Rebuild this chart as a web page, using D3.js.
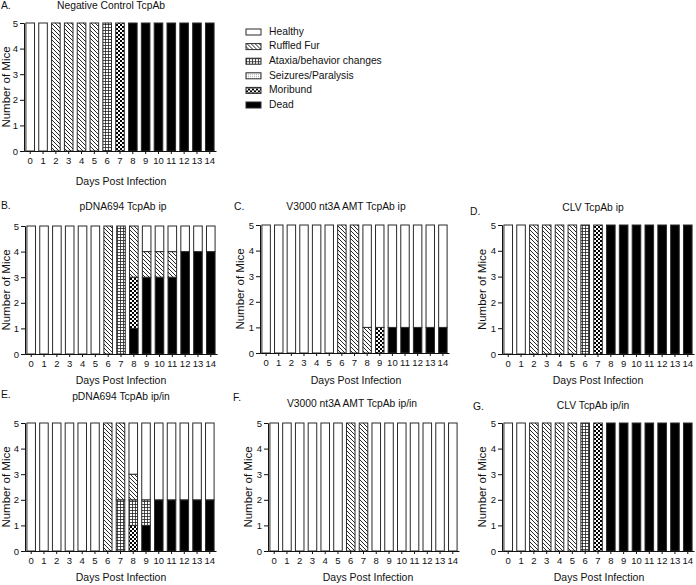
<!DOCTYPE html>
<html>
<head>
<meta charset="utf-8">
<script src="https://cdnjs.cloudflare.com/ajax/libs/d3/7.8.5/d3.min.js"></script>
<style>
  body { margin: 0; background: #fff; }
  text { font-family: "Liberation Sans", Arial, sans-serif; fill: #111; }
</style>
</head>
<body>
<svg id="chart" width="696" height="585"></svg>
<script>
const width = 696;
const height = 585;
const svg = d3.select("#chart");

// categories, in legend order (top to bottom)
const categories = ["Healthy", "Ruffled Fur", "Ataxia/behavior changes", "Seizures/Paralysis", "Moribund", "Dead"];
const days = ["0", "1", "2", "3", "4", "5", "6", "7", "8", "9", "10", "11", "12", "13", "14"];

// per day: [Healthy, Ruffled Fur, Ataxia, Seizures, Moribund, Dead]
const negControl = [
  [5,0,0,0,0,0], [5,0,0,0,0,0], [0,5,0,0,0,0], [0,5,0,0,0,0], [0,5,0,0,0,0],
  [0,5,0,0,0,0], [0,0,5,0,0,0], [0,0,0,0,5,0], [0,0,0,0,0,5], [0,0,0,0,0,5],
  [0,0,0,0,0,5], [0,0,0,0,0,5], [0,0,0,0,0,5], [0,0,0,0,0,5], [0,0,0,0,0,5]
];
const pdnaIp = [
  [5,0,0,0,0,0], [5,0,0,0,0,0], [5,0,0,0,0,0], [5,0,0,0,0,0], [5,0,0,0,0,0],
  [5,0,0,0,0,0], [0,5,0,0,0,0], [0,0,5,0,0,0], [0,2,0,0,2,1], [1,1,0,0,0,3],
  [1,1,0,0,0,3], [1,1,0,0,0,3], [1,0,0,0,0,4], [1,0,0,0,0,4], [1,0,0,0,0,4]
];
const v3000Ip = [
  [5,0,0,0,0,0], [5,0,0,0,0,0], [5,0,0,0,0,0], [5,0,0,0,0,0], [5,0,0,0,0,0],
  [5,0,0,0,0,0], [0,5,0,0,0,0], [0,5,0,0,0,0], [4,1,0,0,0,0], [4,0,0,0,1,0],
  [4,0,0,0,0,1], [4,0,0,0,0,1], [4,0,0,0,0,1], [4,0,0,0,0,1], [4,0,0,0,0,1]
];
const clvIp = [
  [5,0,0,0,0,0], [5,0,0,0,0,0], [0,5,0,0,0,0], [0,5,0,0,0,0], [0,5,0,0,0,0],
  [0,5,0,0,0,0], [0,0,5,0,0,0], [0,0,0,0,5,0], [0,0,0,0,0,5], [0,0,0,0,0,5],
  [0,0,0,0,0,5], [0,0,0,0,0,5], [0,0,0,0,0,5], [0,0,0,0,0,5], [0,0,0,0,0,5]
];
const pdnaIpIn = [
  [5,0,0,0,0,0], [5,0,0,0,0,0], [5,0,0,0,0,0], [5,0,0,0,0,0], [5,0,0,0,0,0],
  [5,0,0,0,0,0], [0,5,0,0,0,0], [0,3,2,0,0,0], [2,1,1,0,1,0], [3,0,1,0,0,1],
  [3,0,0,0,0,2], [3,0,0,0,0,2], [3,0,0,0,0,2], [3,0,0,0,0,2], [3,0,0,0,0,2]
];
const v3000IpIn = [
  [5,0,0,0,0,0], [5,0,0,0,0,0], [5,0,0,0,0,0], [5,0,0,0,0,0], [5,0,0,0,0,0],
  [5,0,0,0,0,0], [0,5,0,0,0,0], [0,5,0,0,0,0], [5,0,0,0,0,0], [5,0,0,0,0,0],
  [5,0,0,0,0,0], [5,0,0,0,0,0], [5,0,0,0,0,0], [5,0,0,0,0,0], [5,0,0,0,0,0]
];
const clvIpIn = [
  [5,0,0,0,0,0], [5,0,0,0,0,0], [0,5,0,0,0,0], [0,5,0,0,0,0], [0,5,0,0,0,0],
  [0,5,0,0,0,0], [0,0,5,0,0,0], [0,0,0,0,5,0], [0,0,0,0,0,5], [0,0,0,0,0,5],
  [0,0,0,0,0,5], [0,0,0,0,0,5], [0,0,0,0,0,5], [0,0,0,0,0,5], [0,0,0,0,0,5]
];

// fills for each category
const defs = svg.append("defs");

defs.append("pattern").attr("id", "p-ruffled")
    .attr("patternUnits", "userSpaceOnUse").attr("width", 4).attr("height", 4)
  .call(p => {
    p.append("rect").attr("width", 4).attr("height", 4).attr("fill", "#fff");
    p.append("path").attr("d", "M-1,-1L5,5M-1,3L1,5M3,-1L5,1")
      .attr("stroke", "#111").attr("stroke-width", 0.9);
  });

defs.append("pattern").attr("id", "p-ataxia")
    .attr("patternUnits", "userSpaceOnUse").attr("width", 3).attr("height", 3)
  .call(p => {
    p.append("rect").attr("width", 3).attr("height", 3).attr("fill", "#fff");
    p.append("path").attr("d", "M0,0.5H3M0.5,0V3")
      .attr("stroke", "#222").attr("stroke-width", 0.8);
  });

defs.append("pattern").attr("id", "p-seizure")
    .attr("patternUnits", "userSpaceOnUse").attr("width", 2).attr("height", 2)
  .call(p => {
    p.append("rect").attr("width", 2).attr("height", 2).attr("fill", "#fff");
    p.append("rect").attr("width", 0.7).attr("height", 0.7).attr("fill", "#555");
  });

defs.append("pattern").attr("id", "p-moribund")
    .attr("patternUnits", "userSpaceOnUse").attr("width", 4).attr("height", 4)
  .call(p => {
    p.append("rect").attr("width", 4).attr("height", 4).attr("fill", "#fff");
    p.append("rect").attr("width", 2).attr("height", 2).attr("fill", "#000");
    p.append("rect").attr("x", 2).attr("y", 2).attr("width", 2).attr("height", 2).attr("fill", "#000");
  });

const fills = ["#fff", "url(#p-ruffled)", "url(#p-ataxia)", "url(#p-seizure)", "url(#p-moribund)", "#000"];

// stacking order from the baseline up: Dead, Moribund, Seizures, Ataxia, Ruffled, Healthy
const stackKeys = [5, 4, 3, 2, 1, 0];

const panels = [
  { data: negControl, letter: "A.", title: "Negative Control TcpAb",
    axisX: 24, right: 216, top: 23, bottom: 151, titleX: 111, titleY: 6, letterX: 1, letterY: 6,
    xLabelX: 121, xLabelY: 182 },
  { data: pdnaIp, letter: "B.", title: "pDNA694 TcpAb ip",
    axisX: 25, right: 217, top: 226, bottom: 354, titleX: 123, titleY: 207, letterX: 1, letterY: 206,
    xLabelX: 121, xLabelY: 381 },
  { data: v3000Ip, letter: "C.", title: "V3000 nt3A AMT TcpAb ip",
    axisX: 260, right: 449, top: 225, bottom: 353, titleX: 346, titleY: 207, letterX: 234, letterY: 207,
    xLabelX: 356, xLabelY: 381 },
  { data: clvIp, letter: "D.", title: "CLV TcpAb ip",
    axisX: 502, right: 694, top: 225, bottom: 354, titleX: 593, titleY: 208, letterX: 470, letterY: 212,
    xLabelX: 598, xLabelY: 381 },
  { data: pdnaIpIn, letter: "E.", title: "pDNA694 TcpAb ip/in",
    axisX: 25, right: 216, top: 423, bottom: 551, titleX: 121, titleY: 397, letterX: 1, letterY: 395,
    xLabelX: 121, xLabelY: 578 },
  { data: v3000IpIn, letter: "F.", title: "V3000 nt3A AMT TcpAb ip/in",
    axisX: 268, right: 459, top: 423, bottom: 551, titleX: 352, titleY: 404, letterX: 233, letterY: 398,
    xLabelX: 368, xLabelY: 578 },
  { data: clvIpIn, letter: "G.", title: "CLV TcpAb ip/in",
    axisX: 502, right: 694, top: 423, bottom: 551, titleX: 593, titleY: 406, letterX: 473, letterY: 407,
    xLabelX: 599, xLabelY: 578 }
];

function drawPanel(p) {
  const g = svg.append("g");

  const x = d3.scaleBand()
      .domain(days)
      .range([p.axisX, p.right])
      .paddingInner(0.33)
      .paddingOuter(0.15);

  const y = d3.scaleLinear()
      .domain([0, 5])
      .range([p.bottom, p.top]);

  const rows = p.data.map((r, i) => {
    const o = { day: days[i] };
    r.forEach((v, k) => { o[k] = v; });
    return o;
  });

  const series = d3.stack().keys(stackKeys)(rows);

  g.append("g")
    .selectAll("g")
    .data(series)
    .enter()
    .append("g")
    .attr("fill", d => fills[d.key])
    .selectAll("rect")
    .data(d => d.filter(s => s[1] > s[0]))
    .enter()
    .append("rect")
    .attr("x", d => x(d.data.day))
    .attr("y", d => y(d[1]))
    .attr("width", x.bandwidth())
    .attr("height", d => y(d[0]) - y(d[1]))
    .attr("stroke", "#2a2a2a")
    .attr("stroke-width", 1);

  const yAxis = g.append("g")
    .attr("transform", "translate(" + p.axisX + ",0)")
    .call(d3.axisLeft(y).ticks(5).tickSize(4).tickPadding(2));

  const xAxis = g.append("g")
    .attr("transform", "translate(0," + p.bottom + ")")
    .call(d3.axisBottom(x).tickSize(3).tickPadding(3).tickSizeOuter(0));

  [yAxis, xAxis].forEach(a => {
    a.selectAll("text").style("font-size", "9.5px").attr("fill", "#111")
      .style("font-family", "'Liberation Sans', Arial, sans-serif");
    a.selectAll("line, path").attr("stroke", "#111");
  });

  g.append("text")
    .attr("x", p.titleX).attr("y", p.titleY)
    .attr("text-anchor", "middle")
    .attr("dominant-baseline", "middle")
    .style("font-size", "10.3px")
    .text(p.title);

  g.append("text")
    .attr("x", p.letterX).attr("y", p.letterY)
    .attr("dominant-baseline", "middle")
    .style("font-size", "10.3px")
    .text(p.letter);

  g.append("text")
    .attr("x", p.xLabelX).attr("y", p.xLabelY)
    .attr("text-anchor", "middle")
    .attr("dominant-baseline", "middle")
    .style("font-size", "10.5px")
    .text("Days Post Infection");

  // keep the rotated label inside the page on the left column
  const yLabelX = Math.max(p.axisX - 19, 7);
  g.append("text")
    .attr("transform", "translate(" + yLabelX + "," + ((p.top + p.bottom) / 2) + ") rotate(-90)")
    .attr("text-anchor", "middle")
    .attr("dominant-baseline", "middle")
    .style("font-size", "11.5px")
    .text("Number of Mice");
}

panels.forEach(drawPanel);

// legend
const legend = svg.append("g").attr("transform", "translate(246,32)");

const item = legend.selectAll("g")
    .data(categories)
    .enter()
    .append("g")
    .attr("transform", (d, i) => "translate(0," + (i * 14.6) + ")");

item.append("rect")
    .attr("x", 0).attr("y", -3)
    .attr("width", 15).attr("height", 6)
    .attr("fill", (d, i) => fills[i])
    .attr("stroke", "#2a2a2a")
    .attr("stroke-width", 1);

item.append("text")
    .attr("x", 23).attr("y", 0)
    .attr("dominant-baseline", "middle")
    .style("font-size", "10.3px")
    .text(d => d);
</script>
</body>
</html>
